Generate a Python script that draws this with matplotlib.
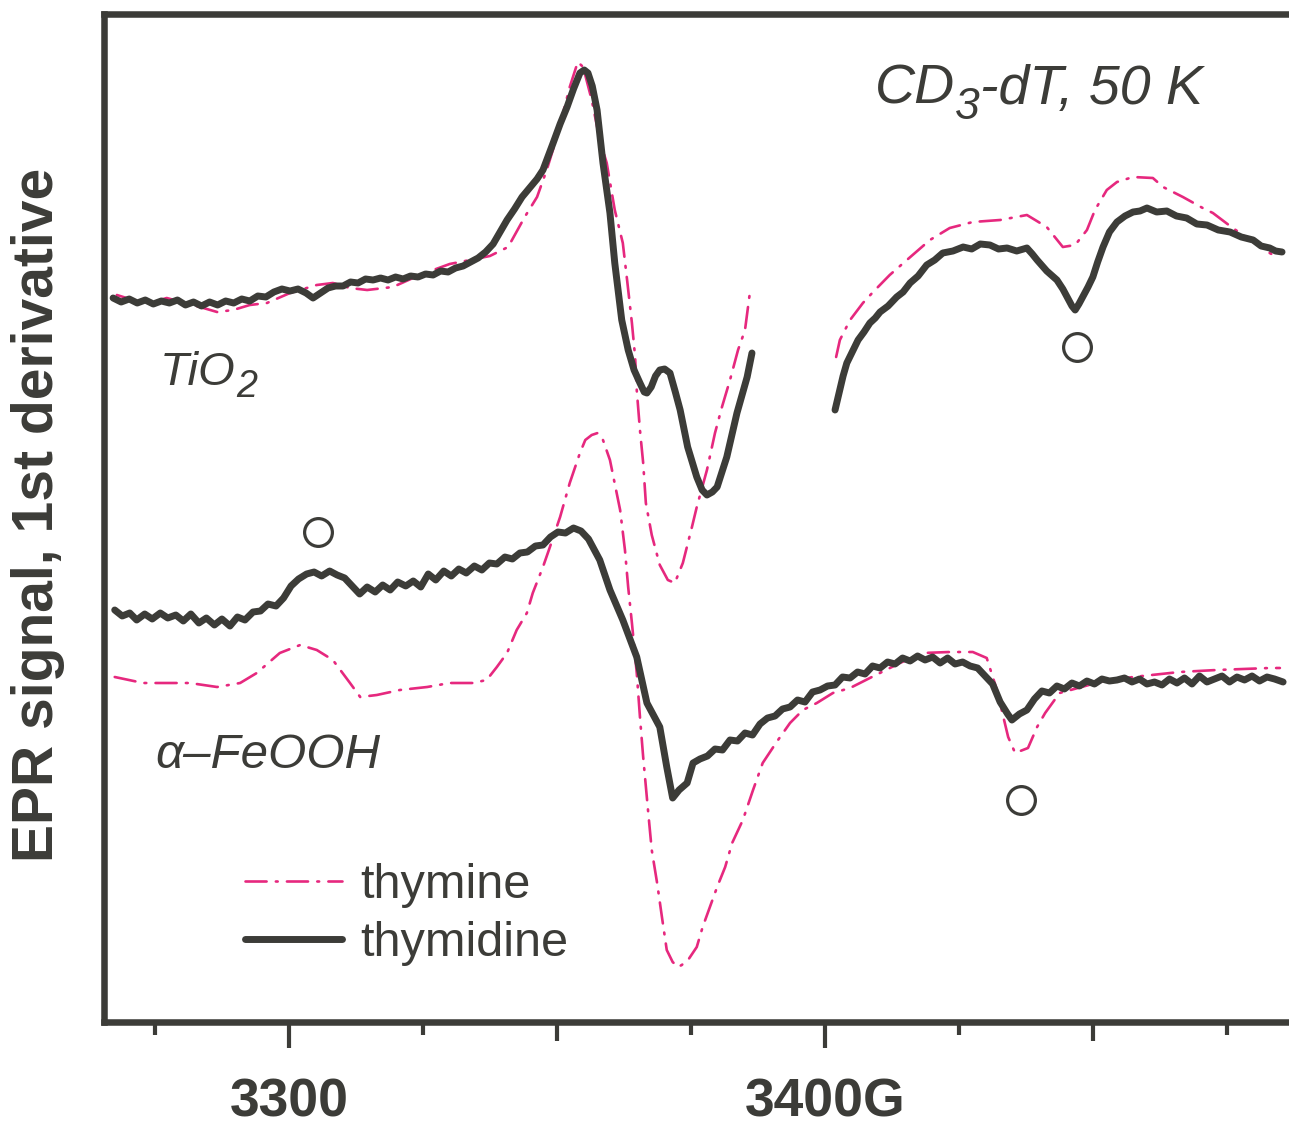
import numpy as np
import matplotlib
matplotlib.use("Agg")
import matplotlib.pyplot as plt

# DATA GOES HERE  (field in G, signal in arbitrary units; NaN = gap in the scan)
tio2_thymidine_field = [3267.1, 3268.6, 3270.1, 3271.6, 3273.1, 3274.6, 3276.1, 3277.6, 3279.1, 3280.6,
                        3282.1, 3283.6, 3285.1, 3286.6, 3288.1, 3289.6, 3291.1, 3292.6, 3294.1, 3295.6,
                        3297.1, 3298.6, 3300.1, 3301.6, 3303.1, 3304.4, 3305.8, 3307.2, 3308.6, 3310.0,
                        3311.4, 3312.8, 3314.2, 3315.6, 3317.0, 3318.4, 3319.8, 3321.2, 3322.6, 3324.0,
                        3325.4, 3326.8, 3328.2, 3329.6, 3331.0, 3332.4, 3333.8, 3335.2, 3336.6, 3338.0,
                        3339.3, 3340.6, 3342.0, 3343.4, 3344.8, 3346.2, 3347.3, 3349.2, 3350.5, 3351.8,
                        3353.0, 3354.2, 3355.0, 3355.7, 3356.5, 3357.4, 3358.5, 3359.8, 3360.7, 3362.0,
                        3363.2, 3364.3, 3365.4, 3366.2, 3366.7, 3367.5, 3368.3, 3369.1, 3370.0, 3371.0,
                        3372.0, 3372.9, 3374.3, 3376.0, 3377.0, 3377.9, 3378.9, 3379.8, 3380.7, 3381.6,
                        3383.5, 3385.4, 3386.3, np.nan,
                        3401.8, 3402.6, 3403.3, 3404.0, 3405.0, 3406.1, 3407.2, 3408.3, 3409.3, 3410.2,
                        3411.7, 3413.3, 3414.5, 3415.8, 3417.3, 3418.9, 3420.4, 3421.9, 3423.8, 3425.7,
                        3427.3, 3428.9, 3430.7, 3432.3, 3433.9, 3435.7, 3437.6, 3438.6, 3439.5, 3441.3,
                        3443.2, 3444.3, 3445.1, 3446.0, 3446.6, 3447.3, 3448.0, 3449.0, 3449.9, 3450.8,
                        3451.8, 3453.0, 3454.4, 3455.9, 3457.4, 3458.7, 3460.0, 3461.8, 3463.7, 3465.5,
                        3467.4, 3469.3, 3471.2, 3473.3, 3475.5, 3477.6, 3479.8, 3481.3, 3482.9, 3484.0,
                        3485.2]
tio2_thymidine_signal = [72.4, 72.0, 72.3, 71.9, 72.2, 71.8, 72.1, 71.9, 72.2, 71.7,
                         72.0, 71.6, 72.0, 71.7, 72.1, 71.9, 72.3, 72.1, 72.6, 72.5,
                         73.0, 73.3, 73.1, 73.3, 72.9, 72.4, 72.9, 73.4, 73.6, 73.6,
                         74.0, 73.9, 74.3, 74.2, 74.4, 74.2, 74.5, 74.3, 74.6, 74.5,
                         74.8, 74.7, 75.1, 75.0, 75.4, 75.6, 76.0, 76.4, 77.0, 77.8,
                         79.0, 80.2, 81.3, 82.5, 83.4, 84.3, 85.2, 87.9, 89.8, 91.5,
                         93.3, 94.9, 95.2, 94.9, 93.6, 91.2, 85.9, 80.9, 75.9, 70.2,
                         67.2, 65.2, 63.9, 63.0, 62.9, 63.5, 64.6, 65.2, 65.3, 64.9,
                         63.0, 61.2, 57.5, 54.5, 53.2, 52.7, 53.0, 53.5, 55.0, 56.5,
                         60.9, 64.5, 66.9, np.nan,
                         61.2, 63.0, 64.6, 65.9, 67.0, 68.2, 69.0, 69.9, 70.4, 71.0,
                         71.6, 72.5, 73.0, 73.9, 74.6, 75.7, 76.2, 76.9, 77.1, 77.5,
                         77.3, 77.8, 77.7, 77.3, 77.4, 77.1, 77.4, 76.8, 76.2, 75.1,
                         74.2, 73.3, 72.5, 71.6, 71.2, 71.8, 72.5, 73.5, 74.5, 76.0,
                         77.5, 79.0, 80.0, 80.6, 81.0, 81.1, 81.4, 81.0, 81.1, 80.6,
                         80.4, 79.8, 79.7, 79.2, 79.0, 78.5, 78.2, 77.6, 77.4, 77.1,
                         77.0]

tio2_thymine_field = [3267.8, 3270.8, 3274.0, 3277.1, 3283.3, 3286.5, 3289.5, 3292.6, 3295.8, 3300.1,
                      3305.1, 3308.1, 3311.3, 3314.5, 3319.3, 3324.3, 3329.9, 3333.7, 3337.4, 3340.8,
                      3343.9, 3346.2, 3348.0, 3349.9, 3352.3, 3353.8, 3354.8, 3356.4, 3357.9, 3359.2,
                      3360.7, 3362.2, 3363.0, 3363.9, 3364.5, 3364.8, 3365.4, 3366.0, 3366.5, 3367.6,
                      3369.1, 3370.6, 3371.9, 3373.4, 3375.1, 3376.0, 3377.9, 3379.4, 3380.7, 3382.2,
                      3383.7, 3385.0, 3385.9, np.nan,
                      3402.0, 3402.7, 3404.6, 3407.0, 3408.9, 3412.0, 3415.2, 3419.5, 3423.2, 3427.5,
                      3432.6, 3437.6, 3441.3, 3444.3, 3446.6, 3448.8, 3450.3, 3452.5, 3454.4, 3457.4,
                      3461.1, 3463.0, 3466.7, 3470.4, 3472.3, 3476.0, 3479.8, 3482.9, 3484.2]
tio2_thymine_signal = [72.7, 72.2, 71.9, 72.4, 71.5, 71.0, 71.2, 71.7, 71.9, 72.9,
                       73.7, 73.9, 73.4, 73.2, 73.5, 74.7, 75.8, 76.2, 76.6, 77.5,
                       80.5, 82.5, 85.2, 88.5, 93.5, 96.0, 95.5, 92.2, 88.2, 85.9,
                       81.2, 77.9, 74.2, 69.9, 66.5, 63.2, 59.2, 55.9, 51.9, 48.7,
                       45.7, 44.2, 43.9, 45.9, 49.5, 51.5, 55.2, 58.9, 61.5, 64.2,
                       67.2, 69.2, 72.9, np.nan,
                       66.5, 68.2, 70.2, 71.9, 73.0, 74.7, 76.2, 78.2, 79.4, 80.0,
                       80.2, 80.7, 79.5, 77.5, 77.7, 79.2, 81.2, 83.2, 84.0, 84.5,
                       84.4, 83.5, 82.5, 81.4, 80.9, 79.4, 78.0, 76.9, 76.5]

feooh_thymidine_field = [3267.4, 3268.8, 3270.2, 3271.5, 3273.0, 3274.4, 3275.9, 3277.3, 3278.8, 3280.2,
                         3281.6, 3283.1, 3284.5, 3286.0, 3287.4, 3288.9, 3290.3, 3291.7, 3293.2, 3294.6,
                         3296.0, 3297.5, 3298.9, 3300.3, 3301.7, 3303.2, 3304.6, 3306.0, 3307.5, 3308.9,
                         3310.3, 3311.7, 3313.1, 3314.5, 3316.0, 3317.4, 3318.8, 3320.2, 3321.7, 3323.1,
                         3324.5, 3325.9, 3327.3, 3328.8, 3330.2, 3331.6, 3333.0, 3334.5, 3335.9, 3337.3,
                         3338.7, 3340.2, 3341.6, 3343.0, 3344.4, 3345.9, 3347.3, 3348.7, 3350.1, 3351.5,
                         3353.0, 3354.4, 3355.8, 3357.9, 3359.8, 3362.2, 3364.8, 3366.7, 3369.1, 3370.4,
                         3371.5, 3372.7, 3374.2, 3375.3, 3376.6, 3378.0, 3379.4, 3380.8, 3382.2, 3383.6,
                         3385.0, 3386.4, 3387.8, 3389.2, 3390.6, 3392.0, 3393.4, 3394.8, 3396.2, 3397.6,
                         3399.0, 3400.4, 3401.8, 3403.2, 3404.6, 3406.0, 3407.4, 3408.8, 3410.2, 3411.6,
                         3413.0, 3414.4, 3415.8, 3417.2, 3418.6, 3420.0, 3421.4, 3422.8, 3424.2, 3425.6,
                         3427.0, 3428.4, 3429.8, 3431.2, 3432.6, 3434.0, 3434.8, 3436.2, 3437.6, 3439.0,
                         3440.4, 3441.8, 3443.2, 3444.6, 3446.0, 3447.4, 3448.8, 3450.2, 3451.6, 3453.0,
                         3454.4, 3455.8, 3457.2, 3458.6, 3460.0, 3461.4, 3462.8, 3464.2, 3465.6, 3467.0,
                         3468.4, 3469.8, 3471.2, 3472.6, 3474.0, 3475.4, 3476.8, 3478.2, 3479.6, 3481.0,
                         3482.4, 3483.8, 3485.4]
feooh_thymidine_signal = [41.2, 40.6, 40.9, 40.2, 40.8, 40.3, 40.9, 40.4, 40.7, 40.1,
                          40.8, 39.9, 40.4, 39.7, 40.3, 39.6, 40.5, 40.2, 41.0, 41.1,
                          41.8, 41.6, 42.4, 43.6, 44.3, 44.8, 45.0, 44.6, 45.1, 44.7,
                          44.4, 43.6, 42.8, 43.5, 43.0, 43.7, 43.2, 44.0, 43.6, 44.1,
                          43.5, 44.8, 44.2, 45.1, 44.6, 45.3, 44.9, 45.6, 45.2, 45.9,
                          45.8, 46.5, 46.3, 46.9, 47.0, 47.6, 47.7, 48.5, 49.0, 48.9,
                          49.4, 49.1, 48.3, 46.2, 43.2, 40.2, 36.5, 31.9, 29.5, 25.5,
                          22.4, 23.2, 23.9, 25.9, 26.3, 26.6, 27.3, 27.2, 28.2, 28.1,
                          28.9, 28.7, 29.8, 30.4, 30.6, 31.3, 31.5, 32.2, 32.0, 33.0,
                          33.2, 33.6, 33.7, 34.5, 34.4, 35.0, 34.8, 35.6, 35.4, 36.0,
                          35.8, 36.4, 36.1, 36.6, 36.2, 36.5, 35.9, 36.4, 35.8, 36.0,
                          35.6, 35.4, 34.6, 33.8, 32.0, 30.8, 30.2, 30.8, 31.2, 32.3,
                          33.1, 32.9, 33.6, 33.3, 33.9, 33.6, 34.1, 33.8, 34.3, 34.1,
                          34.2, 34.4, 34.0, 34.3, 33.8, 34.0, 33.7, 34.3, 33.9, 34.4,
                          33.8, 34.6, 34.0, 34.3, 34.6, 34.0, 34.5, 34.2, 34.6, 34.1,
                          34.5, 34.3, 34.0]

feooh_thymine_field = [3267.4, 3272.7, 3277.1, 3281.4, 3286.5, 3290.8, 3293.9, 3298.2, 3302.0, 3305.1,
                       3308.1, 3311.3, 3313.2, 3316.3, 3320.6, 3325.7, 3329.9, 3334.2, 3336.8, 3338.7,
                       3340.6, 3342.4, 3344.3, 3345.4, 3347.3, 3348.6, 3350.5, 3352.3, 3354.2, 3355.2,
                       3356.4, 3357.5, 3358.5, 3359.8, 3361.7, 3362.6, 3363.2, 3363.9, 3364.8, 3365.4,
                       3366.0, 3366.9, 3367.6, 3368.6, 3369.5, 3370.4, 3371.5, 3372.5, 3373.2, 3374.5,
                       3376.0, 3377.1, 3379.8, 3381.3, 3382.6, 3384.6, 3386.5, 3388.3, 3390.9, 3393.4,
                       3395.8, 3398.4, 3401.4, 3404.6, 3408.3, 3413.9, 3418.2, 3423.2, 3427.5, 3430.1,
                       3432.0, 3434.1, 3435.4, 3437.8, 3439.5, 3441.0, 3443.7, 3451.2, 3457.4, 3466.1,
                       3473.0, 3482.9, 3484.8]
feooh_thymine_signal = [34.5, 33.9, 33.9, 33.9, 33.5, 33.9, 34.9, 36.9, 37.7, 37.2,
                        36.2, 33.9, 32.5, 32.7, 33.2, 33.5, 33.9, 33.9, 34.2, 35.5,
                        36.9, 39.2, 40.9, 42.9, 45.5, 47.5, 50.5, 53.9, 56.9, 58.2,
                        58.7, 58.9, 58.2, 56.2, 51.2, 47.2, 43.5, 39.9, 34.9, 30.5,
                        26.5, 21.2, 17.2, 13.9, 10.5, 7.2, 6.0, 5.5, 5.7, 6.3,
                        7.5, 9.5, 13.5, 15.5, 17.9, 20.2, 23.2, 25.9, 28.0, 29.9,
                        31.2, 31.9, 32.9, 33.4, 34.4, 35.9, 36.9, 37.0, 37.0, 36.4,
                        33.2, 28.5, 26.9, 27.4, 29.5, 30.9, 32.9, 34.0, 34.5, 35.0,
                        35.2, 35.4, 35.4]

# impurity lines marked with open circles
marker_field = [3446.9, 3305.3, 3436.5]
marker_signal = [67.5, 49.0, 22.2]

tick_fields = [3275, 3300, 3325, 3350, 3375, 3400, 3425, 3450, 3475]
tick_labels = ['', '3300', '', '', '', '3400G', '', '', '']

dark = '#3c3c38'
pink = '#e6287e'

plt.rcParams['font.family'] = ['Liberation Sans', 'DejaVu Sans']

W, H = 1289, 1127
fig = plt.figure(figsize=(W / 100, H / 100), dpi=100)
ax = fig.add_axes([104 / W, 1 - 1022 / H, (W - 104) / W, (1022 - 14) / H])

pink_style = dict(color=pink, lw=1.9, dashes=(8, 3.5, 0.7, 3.5), dash_capstyle='round')
thy_line, = ax.plot(tio2_thymine_field, tio2_thymine_signal, **pink_style, label='thymine')
ax.plot(feooh_thymine_field, feooh_thymine_signal, **pink_style)
dark_style = dict(color=dark, lw=5, solid_joinstyle='round', solid_capstyle='round')
dT_line, = ax.plot(tio2_thymidine_field, tio2_thymidine_signal, **dark_style, label='thymidine')
ax.plot(feooh_thymidine_field, feooh_thymidine_signal, **dark_style)
ax.plot(marker_field, marker_signal, 'o', mfc='none', mec=dark, ms=20, mew=2.3)

ax.set_xlim(3265.4, 3486.5)
ax.set_ylim(0, 100.8)

# axes frame
for side in ['left', 'top', 'bottom']:
    ax.spines[side].set_linewidth(4.7)
    ax.spines[side].set_color(dark)
    ax.spines[side].set_capstyle('projecting')
ax.spines['right'].set_visible(False)

ax.set_yticks([])
ax.set_xticks(tick_fields)
ax.set_xticklabels(tick_labels, fontsize=38.5, fontweight='bold', color=dark)
ax.tick_params(axis='x', direction='out', length=18.7, width=3, color=dark, pad=21)
tick_len = {3300: 18.7, 3400: 18.7, 3350: 13.7, 3450: 13.7}
for t, f in zip(ax.xaxis.get_major_ticks(), tick_fields):
    t.tick1line.set_markersize(tick_len.get(f, 9.4))

fig.text(38 / W, 1 - 515 / H, 'EPR signal, 1st derivative', rotation=90, fontsize=41,
         fontweight='bold', color=dark, ha='center', va='center')

renderer = fig.canvas.get_renderer()


def put_text(x, y, parts, size):
    # parts: (string, size factor, shift down in px) placed one after another
    for s, k, dy in parts:
        t = fig.text(x / W, 1 - (y + dy) / H, s, fontsize=size * k, style='italic',
                     color=dark, ha='left', va='baseline')
        x = t.get_window_extent(renderer).x1


put_text(875, 104, [('CD', 1, 0), ('3', 0.8, 15), ('-dT, 50 K', 1, 0)], 40)
put_text(160, 385, [('TiO', 1, 0), ('2', 0.8, 12)], 34)
put_text(155, 768, [('α–FeOOH', 1, 0)], 35.5)

leg = ax.legend(handles=[thy_line, dT_line], loc='upper left',
                bbox_to_anchor=(245 / W, 1 - 863 / H), bbox_transform=fig.transFigure,
                frameon=False, fontsize=35, handlelength=2.0, handletextpad=0.37,
                labelspacing=0.27, borderpad=0, borderaxespad=0)
for txt in leg.get_texts():
    txt.set_color(dark)

fig.savefig('out.png', dpi=100)
